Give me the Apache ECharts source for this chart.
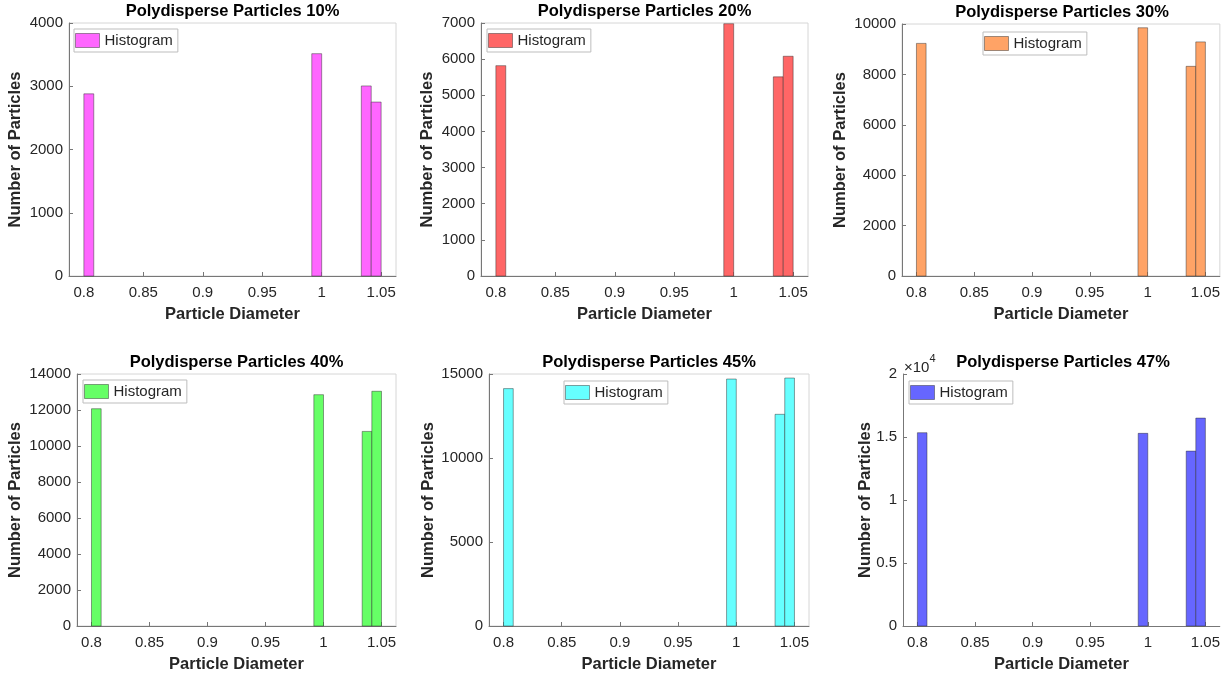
<!DOCTYPE html>
<html>
<head>
<meta charset="utf-8">
<script src="https://cdn.jsdelivr.net/npm/echarts@6/dist/echarts.min.js"></script>
<style>
  html, body { margin: 0; padding: 0; background: #fff; }
  #chart { width: 1223px; height: 676px; }
</style>
</head>
<body>
<div id="chart"></div>
<script>
// histogram bins (only the non-empty ones)
const binLeft = [0.8, 0.991667, 1.033333, 1.041667];
const binRight = [0.808333, 1.0, 1.041667, 1.05];

// counts per bin, one array per concentration
const counts10 = [2880, 3515, 3005, 2750];
const counts20 = [5820, 6980, 5510, 6080];
const counts30 = [9230, 9850, 8320, 9290];
const counts40 = [12070, 12850, 10810, 13040];
const counts45 = [14130, 14700, 12600, 14760];
const counts47 = [15340, 15290, 13880, 16500];

const titles = ['Polydisperse Particles 10%', 'Polydisperse Particles 20%', 'Polydisperse Particles 30%',
    'Polydisperse Particles 40%', 'Polydisperse Particles 45%', 'Polydisperse Particles 47%'];
const yMax = [4000, 7000, 10000, 14000, 15000, 20000];
const yStep = [1000, 1000, 2000, 2000, 5000, 5000];
const xTicks = [0.8, 0.85, 0.9, 0.95, 1, 1.05];

const allCounts = [counts10, counts20, counts30, counts40, counts45, counts47];

// layout of each subplot (px)
const panels = [
    { left: 69, top: 23, width: 327, height: 253, nameGap: 45, legend: [74, 29], box: true },
    { left: 481, top: 23, width: 327, height: 253, nameGap: 45, legend: [487, 29], box: true },
    { left: 902, top: 24, width: 320, height: 252, nameGap: 53, legend: [983, 32], box: true },
    { left: 77, top: 374, width: 319, height: 252, nameGap: 53, legend: [83, 380], box: true },
    { left: 489, top: 374, width: 320, height: 252, nameGap: 52, legend: [564, 381], box: true },
    { left: 903, top: 374, width: 320, height: 252, nameGap: 29, legend: [909, 381], box: false }
];
const colors = ['#FF66FF', '#FF6666', '#FFA366', '#66FF66', '#66FFFF', '#6666FF'];
const edge = 'rgba(40,40,40,0.45)';
const font = '"Liberation Sans", Arial, Helvetica, sans-serif';

let chart = echarts.init(document.getElementById('chart'));

let grids = [], xAxes = [], yAxes = [], series = [], legends = [], titleList = [];

for (let i = 0; i < panels.length; i++) {
    const p = panels[i];
    grids.push({
        left: p.left, top: p.top, width: p.width, height: p.height,
        show: p.box, borderColor: '#d6d6d6', borderWidth: 1, backgroundColor: 'transparent'
    });
    xAxes.push({
        type: 'value', gridIndex: i, min: 0.7875, max: 1.0625,
        name: 'Particle Diameter', nameLocation: 'middle', nameGap: 30,
        nameTextStyle: { fontFamily: font, fontWeight: 'bold', fontSize: 16.5, color: '#262626' },
        axisLine: { show: true, onZero: false, lineStyle: { color: '#777', width: 1 } },
        axisTick: { show: true, inside: true, length: 4, customValues: xTicks, lineStyle: { color: '#777' } },
        axisLabel: {
            customValues: xTicks, margin: 9, fontFamily: font, fontSize: 15, color: '#262626',
            formatter: function (v) { return String(Math.round(v * 100) / 100); }
        },
        splitLine: { show: false }
    });
    yAxes.push({
        type: 'value', gridIndex: i, min: 0, max: yMax[i], interval: yStep[i],
        name: 'Number of Particles', nameLocation: 'middle', nameGap: p.nameGap, nameMoveOverlap: false,
        nameTextStyle: { fontFamily: font, fontWeight: 'bold', fontSize: 16.5, color: '#262626' },
        axisLine: { show: true, lineStyle: { color: '#777', width: 1 } },
        axisTick: { show: true, inside: true, length: 4, lineStyle: { color: '#777' } },
        axisLabel: {
            margin: 6, fontFamily: font, fontSize: 15, color: '#262626',
            formatter: i === 5 ? function (v) { return String(v / 10000); } : function (v) { return String(v); }
        },
        splitLine: { show: false }
    });

    const color = colors[i];
    let data = [];
    for (let k = 0; k < binLeft.length; k++) {
        data.push([binLeft[k], binRight[k], allCounts[i][k]]);
    }
    series.push({
        type: 'custom', name: 'Histogram', xAxisIndex: i, yAxisIndex: i,
        itemStyle: { color: color },
        encode: { x: [0, 1], y: 2 },
        data: data,
        renderItem: function (params, api) {
            const a = api.coord([api.value(0), api.value(2)]);
            const b = api.coord([api.value(1), 0]);
            return {
                type: 'rect',
                shape: { x: a[0], y: a[1], width: b[0] - a[0], height: b[1] - a[1] },
                style: { fill: color, stroke: edge, lineWidth: 1 }
            };
        }
    });

    legends.push({
        left: p.legend[0], top: p.legend[1], orient: 'vertical',
        padding: [4, 5, 4, 1], itemWidth: 24, itemHeight: 14,
        borderColor: '#bdbdbd', borderWidth: 1, backgroundColor: '#fff',
        selectedMode: false,
        textStyle: { fontFamily: font, fontSize: 15, color: '#262626' },
        data: [{ name: 'Histogram', icon: 'rect', itemStyle: { color: color, borderColor: edge, borderWidth: 1 } }]
    });

    titleList.push({
        text: titles[i], left: p.left + p.width / 2, top: p.top - 20, textAlign: 'center', padding: 0,
        textStyle: { fontFamily: font, fontWeight: 'bold', fontSize: 16.5, color: '#000' }
    });
}

const option = {
    animation: false,
    backgroundColor: '#fff',
    title: titleList,
    grid: grids,
    xAxis: xAxes,
    yAxis: yAxes,
    legend: legends,
    series: series,
    graphic: [{
        type: 'text', left: 904, top: 353,
        style: {
            text: '{a|×10}{b|4}',
            rich: {
                a: { fontFamily: font, fontSize: 15, fill: '#262626', padding: [7, 0, 0, 0] },
                b: { fontFamily: font, fontSize: 11, fill: '#262626', verticalAlign: 'top' }
            }
        }
    }]
};
chart.setOption(option);
</script>
</body>
</html>
